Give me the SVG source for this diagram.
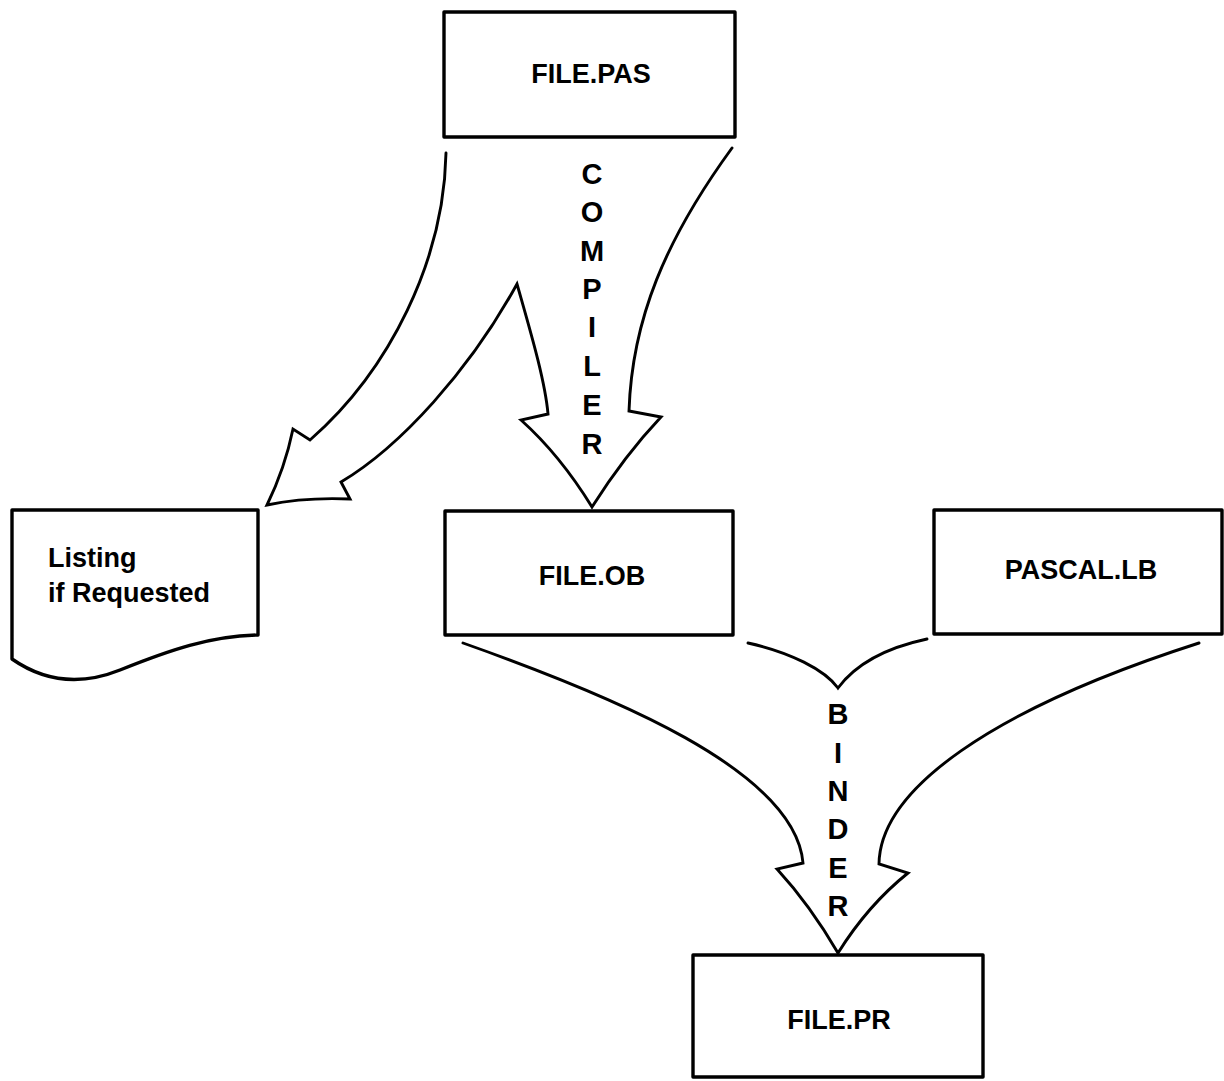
<svg xmlns="http://www.w3.org/2000/svg" width="1224" height="1081" viewBox="0 0 1224 1081">
  <style>
    .box { fill: #fff; stroke: #000; stroke-width: 3.4; stroke-linejoin: round; }
    .flow { fill: none; stroke: #000; stroke-width: 2.9; stroke-linejoin: miter; stroke-linecap: round; }
    .lbl { font-family: "Liberation Sans", Arial, sans-serif; font-weight: bold; font-size: 27px; fill: #000; }
    .tall { font-size: 29px; }
    .mid { text-anchor: middle; }
  </style>
  <rect width="1224" height="1081" fill="#fff"/>

  <!-- broad flow arrows -->
  <g id="connectors">
    <!-- compiler: FILE.PAS splits to the listing and to FILE.OB -->
    <path class="flow" d="M446,153 C444,260 390,370 310,440 L293,429 Q285,468 267,505 Q305,497 350,499 L341,482 C400,447 470,370 517,284 C530,330 545,380 548,414 L521,420 Q560,455 592,507 Q625,455 661,417 L629,411 C632,320 665,240 732,148"/>
    <!-- binder: FILE.OB and PASCAL.LB merge into FILE.PR -->
    <path class="flow" d="M463,643 C610,695 795,770 803,863 L777,869 Q810,905 838,953 Q868,905 908,873 L879,864 C880,790 990,710 1199,643"/>
    <path class="flow" d="M748,643 C790,652 825,670 838,688 C855,665 885,648 927,639"/>
    <g class="lbl tall mid">
      <text x="592" y="184">C</text>
      <text x="592" y="222">O</text>
      <text x="592" y="261">M</text>
      <text x="592" y="299">P</text>
      <text x="592" y="337">I</text>
      <text x="592" y="376">L</text>
      <text x="592" y="415">E</text>
      <text x="592" y="454">R</text>
      <text x="838" y="724">B</text>
      <text x="838" y="763">I</text>
      <text x="838" y="801">N</text>
      <text x="838" y="839">D</text>
      <text x="838" y="878">E</text>
      <text x="838" y="916">R</text>
    </g>
  </g>

  <g id="file-pas">
    <rect class="box" x="444" y="12" width="291" height="125"/>
    <text class="lbl mid" x="591" y="83">FILE.PAS</text>
  </g>

  <g id="listing">
    <path class="box" d="M12,510 H258 V635 C210,636 170,650 120,670 C80,686 45,682 12,659 Z"/>
    <text class="lbl" x="48" y="567">Listing</text>
    <text class="lbl" x="48" y="602">if Requested</text>
  </g>

  <g id="file-ob">
    <rect class="box" x="445" y="511" width="288" height="124"/>
    <text class="lbl mid" x="592" y="585">FILE.OB</text>
  </g>

  <g id="pascal-lb">
    <rect class="box" x="934" y="510" width="288" height="124"/>
    <text class="lbl mid" x="1081" y="579">PASCAL.LB</text>
  </g>

  <g id="file-pr">
    <rect class="box" x="693" y="955" width="290" height="122"/>
    <text class="lbl mid" x="839" y="1029">FILE.PR</text>
  </g>
</svg>
